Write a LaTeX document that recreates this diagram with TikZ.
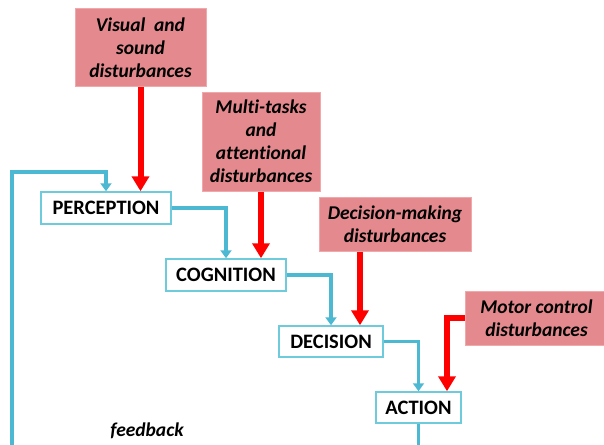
\documentclass[tikz,border=0pt]{standalone}
\usepackage{fontspec}
\setmainfont{Carlito}[Ligatures=NoCommon]
\usepackage{tikz}
\usetikzlibrary{arrows.meta,positioning,calc}

\definecolor{distfill}{RGB}{228,138,142}
\definecolor{distline}{RGB}{240,168,170}
\definecolor{flowblue}{RGB}{77,184,210}
\definecolor{boxblue}{RGB}{110,203,219}

\tikzset{
  disturb/.style={draw=distline,fill=distfill,line width=1pt,align=center,
    font=\fontsize{19.5}{23}\selectfont\bfseries\itshape,inner sep=0pt},
  stage/.style={draw=boxblue,fill=white,line width=1.5pt,inner sep=0pt,
    font=\fontsize{20.5}{22}\selectfont\bfseries},
  flow/.style={draw=flowblue,line width=3.8pt,-{Triangle[width=11pt,length=8pt]}},
  hit/.style={draw=red,line width=6pt,-{Triangle[width=17pt,length=15pt]}},
}

\begin{document}
\begin{tikzpicture}[x=1pt,y=-1pt]
\useasboundingbox (0,0) rectangle (604,444);

% disturbances
\node[disturb,minimum width=131pt,minimum height=77pt] (vis) at (140.5,47.5)
  {Visual\ \ and\\sound\\disturbances};
\node[disturb,minimum width=118pt,minimum height=99pt] (multi) at (261,141.5)
  {Multi-tasks\\and\\attentional\\disturbances};
\node[disturb,minimum width=152pt,minimum height=54pt] (decm) at (395,224)
  {Decision-making\\disturbances};
\node[disturb,minimum width=143pt,minimum height=54pt] (motor) at (536.5,318)
  {Motor control\\disturbances};

% stages
\node[stage,minimum width=130pt,minimum height=32pt] (perc) at (106,208) {PERCEPTION};
\node[stage,minimum width=120pt,minimum height=32pt] (cog) at (226,275) {COGNITION};
\node[stage,minimum width=104pt,minimum height=31pt] (dec) at (331,341.5) {DECISION};
\node[stage,minimum width=85pt,minimum height=31pt] (act) at (418.5,407.5) {ACTION};

% flow between stages
\draw[flow] (perc.east) -| (cog.north);
\draw[flow] (cog.east) -| (dec.north);
\draw[flow] (dec.east) -| (act.north);

% feedback loop
\coordinate (fbturn) at (12,172);
\draw[flow] (act.south) |- (12,446.6) -- (fbturn) -| (perc.north);
\node[font=\fontsize{19.5}{22}\selectfont\bfseries\itshape] (fb) at (147,431) {feedback};

% disturbance arrows
\draw[hit] (vis.south) -- (vis.south |- perc.north);
\draw[hit] (multi.south) -- (multi.south |- cog.north);
\coordinate (decin) at (360,0);
\draw[hit] (decm.south -| decin) -- (dec.north -| decin);
\coordinate (actin) at (447,0);
\draw[hit] (motor.west) -| (act.north -| actin);
\end{tikzpicture}
\end{document}
